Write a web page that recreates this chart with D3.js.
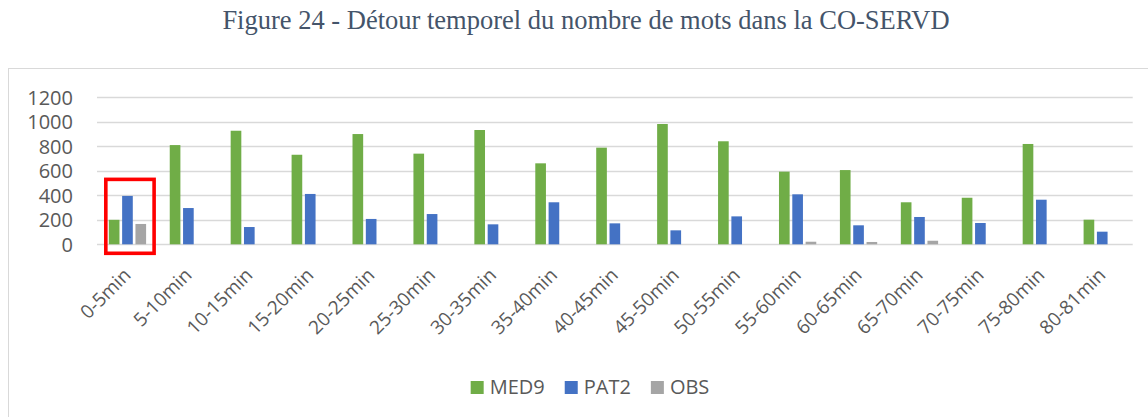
<!DOCTYPE html>
<html lang="fr">
<head>
<meta charset="utf-8">
<title>Détour temporel du nombre de mots</title>
<script src="https://cdn.jsdelivr.net/npm/d3@7/dist/d3.min.js"></script>
<style>
  html, body { margin: 0; padding: 0; background: #ffffff; }
  svg { display: block; }
</style>
</head>
<body>
<svg id="chart" width="1148" height="417"></svg>
<script>
// Time slices of the recording
const categories = [
  "0-5min", "5-10min", "10-15min", "15-20min", "20-25min", "25-30min",
  "30-35min", "35-40min", "40-45min", "45-50min", "50-55min", "55-60min",
  "60-65min", "65-70min", "70-75min", "75-80min", "80-81min"
];

// Word counts per speaker
const med9 = [200, 810, 927, 731, 900, 740, 933, 661, 789, 982, 841, 593, 606, 343, 380, 819, 201];
const pat2 = [395, 296, 141, 411, 207, 247, 163, 343, 171, 114, 228, 408, 155, 223, 174, 364, 103];
const obs  = [166, 0, 0, 0, 0, 0, 0, 0, 0, 0, 0, 21, 19, 29, 0, 0, 0];

const seriesNames = ["MED9", "PAT2", "OBS"];
const seriesValues = [med9, pat2, obs];
const seriesColors = ["#70AD47", "#4472C4", "#A5A5A5"];

const yTicks = [0, 200, 400, 600, 800, 1000, 1200];

const titleText = "Figure 24 - Détour temporel du nombre de mots dans la CO-SERVD";

const svg = d3.select("#chart");
const uiFont = "'Open Sans', 'Noto Sans', sans-serif";
const textGrey = "#595959";
const gridGrey = "#D9D9D9";

// Title
svg.append("text")
  .attr("x", 586)
  .attr("y", 29)
  .attr("text-anchor", "middle")
  .attr("font-family", "'Liberation Serif', 'Times New Roman', serif")
  .attr("font-size", 26.5)
  .attr("fill", "#44546A")
  .text(titleText);

// Chart area frame
svg.append("rect")
  .attr("x", 8.5).attr("y", 68.5)
  .attr("width", 1164).attr("height", 420)
  .attr("fill", "#ffffff")
  .attr("stroke", gridGrey)
  .attr("stroke-width", 1);

// Plot area
const plot = { left: 97, right: 1132.7, top: 97.3, bottom: 244.3 };

const x0 = d3.scaleBand()
  .domain(categories)
  .range([plot.left, plot.right])
  .paddingInner(0.388)
  .paddingOuter(0.194);

const x1 = d3.scaleBand()
  .domain(seriesNames)
  .range([0, x0.bandwidth()])
  .paddingInner(0.2);

const y = d3.scaleLinear()
  .domain([0, 1200])
  .range([plot.bottom, plot.top]);

// Horizontal gridlines
svg.append("g")
  .selectAll("line")
  .data(yTicks)
  .join("line")
  .attr("x1", plot.left)
  .attr("x2", plot.right)
  .attr("y1", d => Math.round(y(d)) + 0.5)
  .attr("y2", d => Math.round(y(d)) + 0.5)
  .attr("stroke", gridGrey)
  .attr("stroke-width", d => d === 0 ? 1.6 : 1.3);

// Y axis labels
const yAxis = d3.axisLeft(y).tickValues(yTicks).tickFormat(d3.format("d")).tickSize(0).tickPadding(0);
const yG = svg.append("g")
  .attr("transform", `translate(${73},0)`)
  .call(yAxis);
yG.select(".domain").remove();
yG.selectAll("text")
  .attr("font-family", uiFont)
  .attr("font-size", 20)
  .attr("fill", textGrey)
  .attr("dy", "0.35em");

// Bars
const groups = svg.append("g")
  .selectAll("g")
  .data(categories)
  .join("g")
  .attr("transform", d => `translate(${x0(d)},0)`);

groups.selectAll("rect")
  .data((c, i) => seriesNames.map((s, k) => ({ s, k, v: seriesValues[k][i] })))
  .join("rect")
  .filter(d => d.v > 0)
  .attr("x", d => x1(d.s))
  .attr("y", d => y(d.v))
  .attr("width", x1.bandwidth())
  .attr("height", d => y(0) - y(d.v))
  .attr("fill", d => seriesColors[d.k]);

// X axis labels, rotated
svg.append("g")
  .selectAll("text")
  .data(categories)
  .join("text")
  .attr("transform", d => `translate(${x0(d) + x0.bandwidth() / 2 + 4.5},${plot.bottom + 32}) rotate(-45)`)
  .attr("text-anchor", "end")
  .attr("font-family", uiFont)
  .attr("font-size", 19)
  .attr("fill", textGrey)
  .text(d => d);

// Highlight box around the first time slice
const first = categories[0];
svg.append("rect")
  .attr("x", x0(first) - 3)
  .attr("y", y(530))
  .attr("width", x0.bandwidth() + 11)
  .attr("height", plot.bottom + 9 - y(530))
  .attr("fill", "none")
  .attr("stroke", "#FF0000")
  .attr("stroke-width", 3.6);

// Legend
const legend = svg.append("g");
const items = legend.selectAll("g")
  .data(seriesNames)
  .join("g");
items.append("rect")
  .attr("width", 13).attr("height", 13)
  .attr("y", 381)
  .attr("fill", (d, i) => seriesColors[i]);
items.append("text")
  .attr("x", 19)
  .attr("y", 394)
  .attr("font-family", uiFont)
  .attr("font-size", 20)
  .attr("fill", textGrey)
  .text(d => d);

const widths = [];
items.each(function () {
  const tw = d3.select(this).select("text").node().getComputedTextLength();
  widths.push(19 + tw);
});
const gap = 20;
const total = d3.sum(widths) + gap * (widths.length - 1);
let cursor = 590 - total / 2;
items.attr("transform", (d, i) => {
  const t = `translate(${cursor},0)`;
  cursor += widths[i] + gap;
  return t;
});
</script>
</body>
</html>
